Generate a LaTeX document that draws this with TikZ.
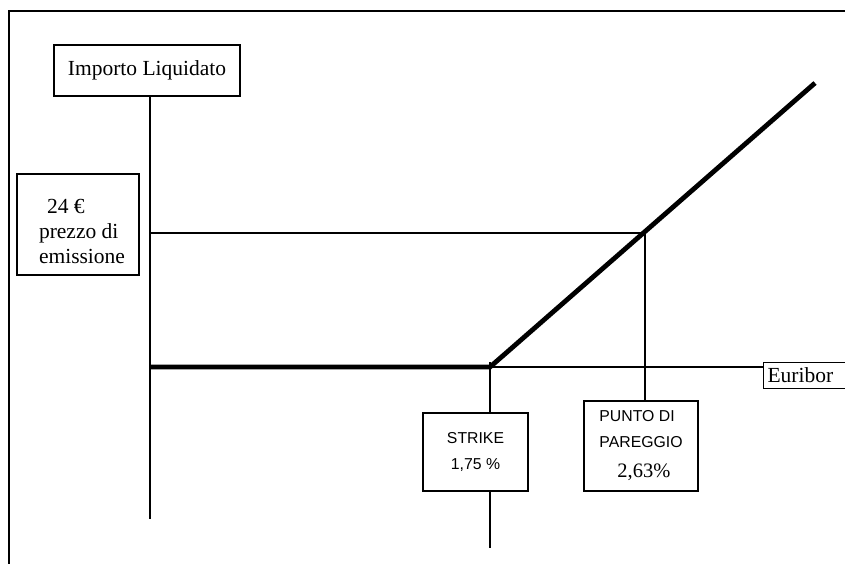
\documentclass[tikz,border=0pt]{standalone}
\usepackage{fontspec}
\setmainfont{Liberation Serif}
\setsansfont{Liberation Sans}
\usetikzlibrary{positioning}
\tikzset{
	riquadro/.style={draw, line width=1.2pt, inner sep=0pt, font=\fontsize{21.5}{25}\selectfont},
	riquadrosf/.style={riquadro, font=\sffamily\fontsize{15.8}{26}\selectfont},
	asse/.style={line width=1.4pt},
	payoff/.style={line width=4.8pt}
}

\begin{document}
\begin{tikzpicture}[x=1pt,y=-1pt]
    \useasboundingbox (0,0) rectangle (845,563);
    \clip (0,0) rectangle (845,563);
    % Frame
    \draw[line width=2.2pt] (9,570) -- (9,11) -- (860,11);

    % Boxes
    \node[riquadro, minimum width=186, minimum height=51] (importo) at (147,70.5) {Importo Liquidato};
    \node[riquadro, minimum width=122, minimum height=101, align=left] (prezzo) at (78,224.5) {\rule{0pt}{28pt}\hspace*{16pt}24 €\\\hspace*{8pt}prezzo di\\\hspace*{8pt}emissione};
    \node[riquadrosf, minimum width=105, minimum height=78, align=center] (strike) at (475.5,452) {STRIKE\\1,75 \%};
    \node[riquadrosf, minimum width=114, minimum height=90, align=left] (pareggio) at (641,446) {PUNTO DI\\PAREGGIO\\[4pt]\hspace*{18pt}{\rmfamily\fontsize{20.5}{24}\selectfont 2,63\%}};
    \node[riquadro, text width=90, align=left, inner xsep=4pt, minimum height=26, anchor=north west] (euribor) at (763,362) {Euribor};

    \coordinate (origine) at (150,367);
    \coordinate (strikept) at (490,367);
    \coordinate (pareggiopt) at (645,233);
    \coordinate (finepayoff) at (815,83);
    \coordinate (prezzoasse) at (150,233);
    \coordinate (fondoasse) at (150,519);
    \coordinate (fondostrike) at (490,548);

    % Draw the axes
    \draw[asse] ([xshift=3pt]importo.south) -- (fondoasse);
    \draw[asse] (strikept) -- (euribor.west |- strikept);
    \draw[asse] (prezzoasse) -- (pareggiopt) -- (pareggiopt |- pareggio.north);
    \draw[asse] ([yshift=5pt]strikept) -- (strikept |- strike.north);
    \draw[asse] (strikept |- strike.south) -- (fondostrike);
    % Payoff
    \draw[payoff] (origine) -- (strikept) -- (finepayoff);
\end{tikzpicture}
\end{document}
